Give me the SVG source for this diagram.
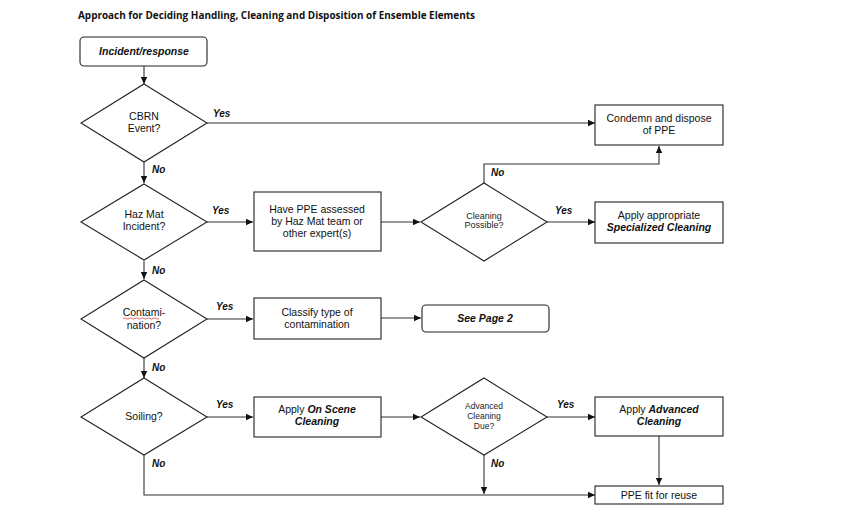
<svg xmlns="http://www.w3.org/2000/svg" width="860" height="517" viewBox="0 0 860 517">
<style>
.bg{fill:#fff}
.shape{fill:#fff;stroke:#222;stroke-width:1.1}
.ln{fill:none;stroke:#333;stroke-width:1.1}
.t{font-family:"Liberation Sans",Arial,sans-serif;font-size:10.5px;fill:#111;text-anchor:middle}
.ts{font-family:"Liberation Sans",Arial,sans-serif;font-size:9px;fill:#222;text-anchor:middle}
.bi{font-weight:bold;font-style:italic}
.lab{font-family:"Liberation Sans",Arial,sans-serif;font-size:10px;font-weight:bold;font-style:italic;fill:#111}
.title{font-family:"Open Sans",sans-serif;font-size:10px;font-weight:bold;fill:#111}
</style>
<defs>
<marker id="arr" markerWidth="8" markerHeight="8" refX="7" refY="4" orient="auto" markerUnits="userSpaceOnUse">
<path d="M0,0.8 L7,4 L0,7.2 Z" fill="#111"/>
</marker>
</defs>
<rect class="bg" x="0" y="0" width="860" height="517"/>
<text class="title" x="78" y="19" textLength="397" lengthAdjust="spacingAndGlyphs">Approach for Deciding Handling, Cleaning and Disposition of Ensemble Elements</text>

<g id="connectors">
<path class="ln" d="M144,66 V84" marker-end="url(#arr)"/>
<path class="ln" d="M207,123 H595" marker-end="url(#arr)"/>
<path class="ln" d="M144,162 V183" marker-end="url(#arr)"/>
<path class="ln" d="M207,222 H253" marker-end="url(#arr)"/>
<path class="ln" d="M381,222 H420" marker-end="url(#arr)"/>
<path class="ln" d="M484,183 V164 H659 V146" marker-end="url(#arr)"/>
<path class="ln" d="M547,222 H595" marker-end="url(#arr)"/>
<path class="ln" d="M144,261 V279" marker-end="url(#arr)"/>
<path class="ln" d="M207,319 H253" marker-end="url(#arr)"/>
<path class="ln" d="M381,318 H421" marker-end="url(#arr)"/>
<path class="ln" d="M144,358 V378" marker-end="url(#arr)"/>
<path class="ln" d="M207,417 H253" marker-end="url(#arr)"/>
<path class="ln" d="M381,417 H420" marker-end="url(#arr)"/>
<path class="ln" d="M547,417 H595" marker-end="url(#arr)"/>
<path class="ln" d="M659,436 V485" marker-end="url(#arr)"/>
<path class="ln" d="M144,455 V495 H595" marker-end="url(#arr)"/>
<path class="ln" d="M484,455 V494" marker-end="url(#arr)"/>
<text class="lab" x="213" y="117">Yes</text>
<text class="lab" x="152" y="173">No</text>
<text class="lab" x="212" y="214">Yes</text>
<text class="lab" x="491" y="176">No</text>
<text class="lab" x="555" y="214">Yes</text>
<text class="lab" x="152" y="274">No</text>
<text class="lab" x="216" y="310">Yes</text>
<text class="lab" x="152" y="371">No</text>
<text class="lab" x="216" y="408">Yes</text>
<text class="lab" x="557" y="408">Yes</text>
<text class="lab" x="152" y="467">No</text>
<text class="lab" x="491" y="467">No</text>
</g>

<g id="incident">
<rect class="shape" x="80" y="37" width="127" height="29" rx="4"/>
<text class="t bi" x="144" y="55">Incident/response</text>
</g>
<g id="cbrn">
<path class="shape" d="M144,84 L207,123 L144,162 L81,123 Z"/>
<text class="t" x="144" y="120">CBRN</text>
<text class="t" x="144" y="132">Event?</text>
</g>
<g id="condemn">
<rect class="shape" x="595" y="105" width="128" height="40"/>
<text class="t" x="659" y="122">Condemn and dispose</text>
<text class="t" x="659" y="134">of PPE</text>
</g>
<g id="hazmat">
<path class="shape" d="M144,184 L207,222 L144,260 L81,222 Z"/>
<text class="t" x="144" y="218">Haz Mat</text>
<text class="t" x="144" y="230">Incident?</text>
</g>
<g id="assess">
<rect class="shape" x="254" y="192" width="127" height="59"/>
<text class="t" x="317" y="213">Have PPE assessed</text>
<text class="t" x="317" y="225">by Haz Mat team or</text>
<text class="t" x="317" y="237">other expert(s)</text>
</g>
<g id="cleaning-possible">
<path class="shape" d="M484,183 L547,222 L484,261 L421,222 Z"/>
<text class="ts" x="484" y="219">Cleaning</text>
<text class="ts" x="484" y="228">Possible?</text>
</g>
<g id="specialized">
<rect class="shape" x="595" y="202" width="128" height="41"/>
<text class="t" x="659" y="219">Apply appropriate</text>
<text class="t bi" x="659" y="231">Specialized Cleaning</text>
</g>
<g id="contamination">
<path class="shape" d="M144,280 L207,319 L144,358 L81,319 Z"/>
<text class="t" x="144" y="316">Contami-</text>
<path d="M123,318.5 q1.5,-1.2 3,0 t3,0 t3,0 t3,0 t3,0 t3,0 t3,0 t3,0 t3,0 t3,0 t3,0 t3,0" fill="none" stroke="#d22" stroke-width="0.7"/>
<text class="t" x="144" y="329">nation?</text>
</g>
<g id="classify">
<rect class="shape" x="254" y="298" width="127" height="41"/>
<text class="t" x="317" y="316">Classify type of</text>
<text class="t" x="317" y="328">contamination</text>
</g>
<g id="page2">
<rect class="shape" x="422" y="305" width="127" height="27" rx="4"/>
<text class="t bi" x="485" y="322">See Page 2</text>
</g>
<g id="soiling">
<path class="shape" d="M144,378 L207,417 L144,455 L81,417 Z"/>
<text class="t" x="144" y="420">Soiling?</text>
</g>
<g id="onscene">
<rect class="shape" x="254" y="397" width="127" height="40"/>
<text class="t" x="317" y="413">Apply <tspan class="bi">On Scene</tspan></text>
<text class="t bi" x="317" y="425">Cleaning</text>
</g>
<g id="advanced-due">
<path class="shape" d="M484,378 L547,417 L484,455 L421,417 Z"/>
<text class="ts" x="484" y="409" style="font-size:8.5px">Advanced</text>
<text class="ts" x="484" y="419" style="font-size:8.5px">Cleaning</text>
<text class="ts" x="484" y="429" style="font-size:8.5px">Due?</text>
</g>
<g id="advanced">
<rect class="shape" x="595" y="397" width="128" height="39"/>
<text class="t" x="659" y="413">Apply <tspan class="bi">Advanced</tspan></text>
<text class="t bi" x="659" y="425">Cleaning</text>
</g>
<g id="reuse">
<rect class="shape" x="595" y="486" width="128" height="18"/>
<text class="t" x="659" y="499">PPE fit for reuse</text>
</g>
</svg>
